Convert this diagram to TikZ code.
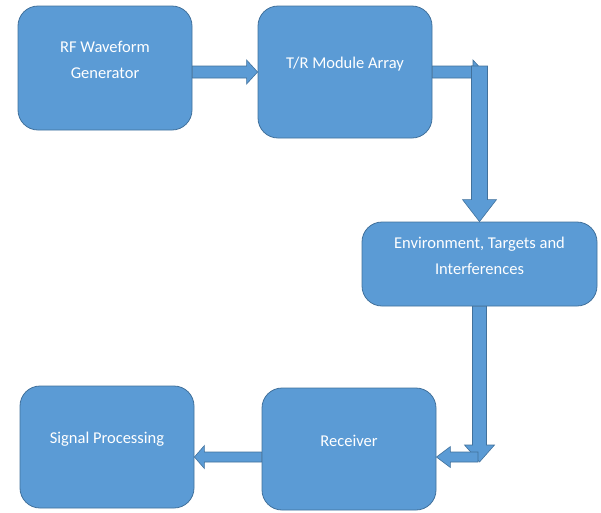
\documentclass[tikz,border=0pt]{standalone}
\usepackage{fontspec}
\setmainfont{Carlito}
\usetikzlibrary{calc}

\definecolor{boxfill}{HTML}{5B9BD5}
\definecolor{boxline}{HTML}{41719C}

% block arrow: shaft half width, head half width, head length, start, tip
\newcommand\blockarrow[5]{%
  \coordinate (ah) at ($(#5)!#3!(#4)$);
  \path[fatarrow] ($(#4)!#1!90:(#5)$) -- ($(ah)!#1!90:(#5)$) -- ($(ah)!#2!90:(#5)$)
    -- (#5) -- ($(ah)!#2!-90:(#5)$) -- ($(ah)!#1!-90:(#5)$) -- ($(#4)!#1!-90:(#5)$) -- cycle;
}

\tikzset{
  blk/.style={draw=boxline, fill=boxfill, line width=0.8pt, rounded corners=20pt,
    minimum width=174pt, inner sep=0pt},
  txt/.style={text=white, align=center, yshift=8pt, font=\fontsize{16.5}{26}\selectfont},
  fatarrow/.style={draw=boxline, fill=boxfill, line width=0.6pt, line join=miter}
}

\begin{document}
\begin{tikzpicture}[x=1pt,y=-1pt]
  \useasboundingbox (0,0) rectangle (601,512);
  \node[blk, minimum height=124pt, label={[txt]center:RF Waveform\\Generator}] (gen) at (105,68) {};
  \node[blk, minimum height=132pt, label={[txt]center:T/R Module Array}] (tr) at (345,72) {};
  \node[blk, minimum width=235pt, minimum height=84pt, label={[txt]center:Environment, Targets and\\Interferences}] (env) at (479.5,264) {};
  \node[blk, minimum height=122pt, label={[txt]center:Receiver}] (rec) at (349,449) {};
  \node[blk, minimum height=122pt, label={[txt]center:Signal Processing}] (sig) at (107,447) {};
  \coordinate (c1) at (484,72);
  \coordinate (c2) at (478,457);
  \blockarrow{6pt}{12pt}{11pt}{gen.east |- tr.west}{tr.west}
  \blockarrow{6pt}{12pt}{11pt}{tr.east}{c1}
  \blockarrow{8pt}{17pt}{22pt}{env.north |- 0,66}{env.north}
  \blockarrow{7pt}{15pt}{17pt}{env.south}{env.south |- 0,462}
  \blockarrow{5pt}{10.5pt}{14pt}{c2}{rec.east |- c2}
  \blockarrow{5pt}{11.5pt}{10pt}{rec.west |- c2}{sig.east |- c2}
\end{tikzpicture}
\end{document}
